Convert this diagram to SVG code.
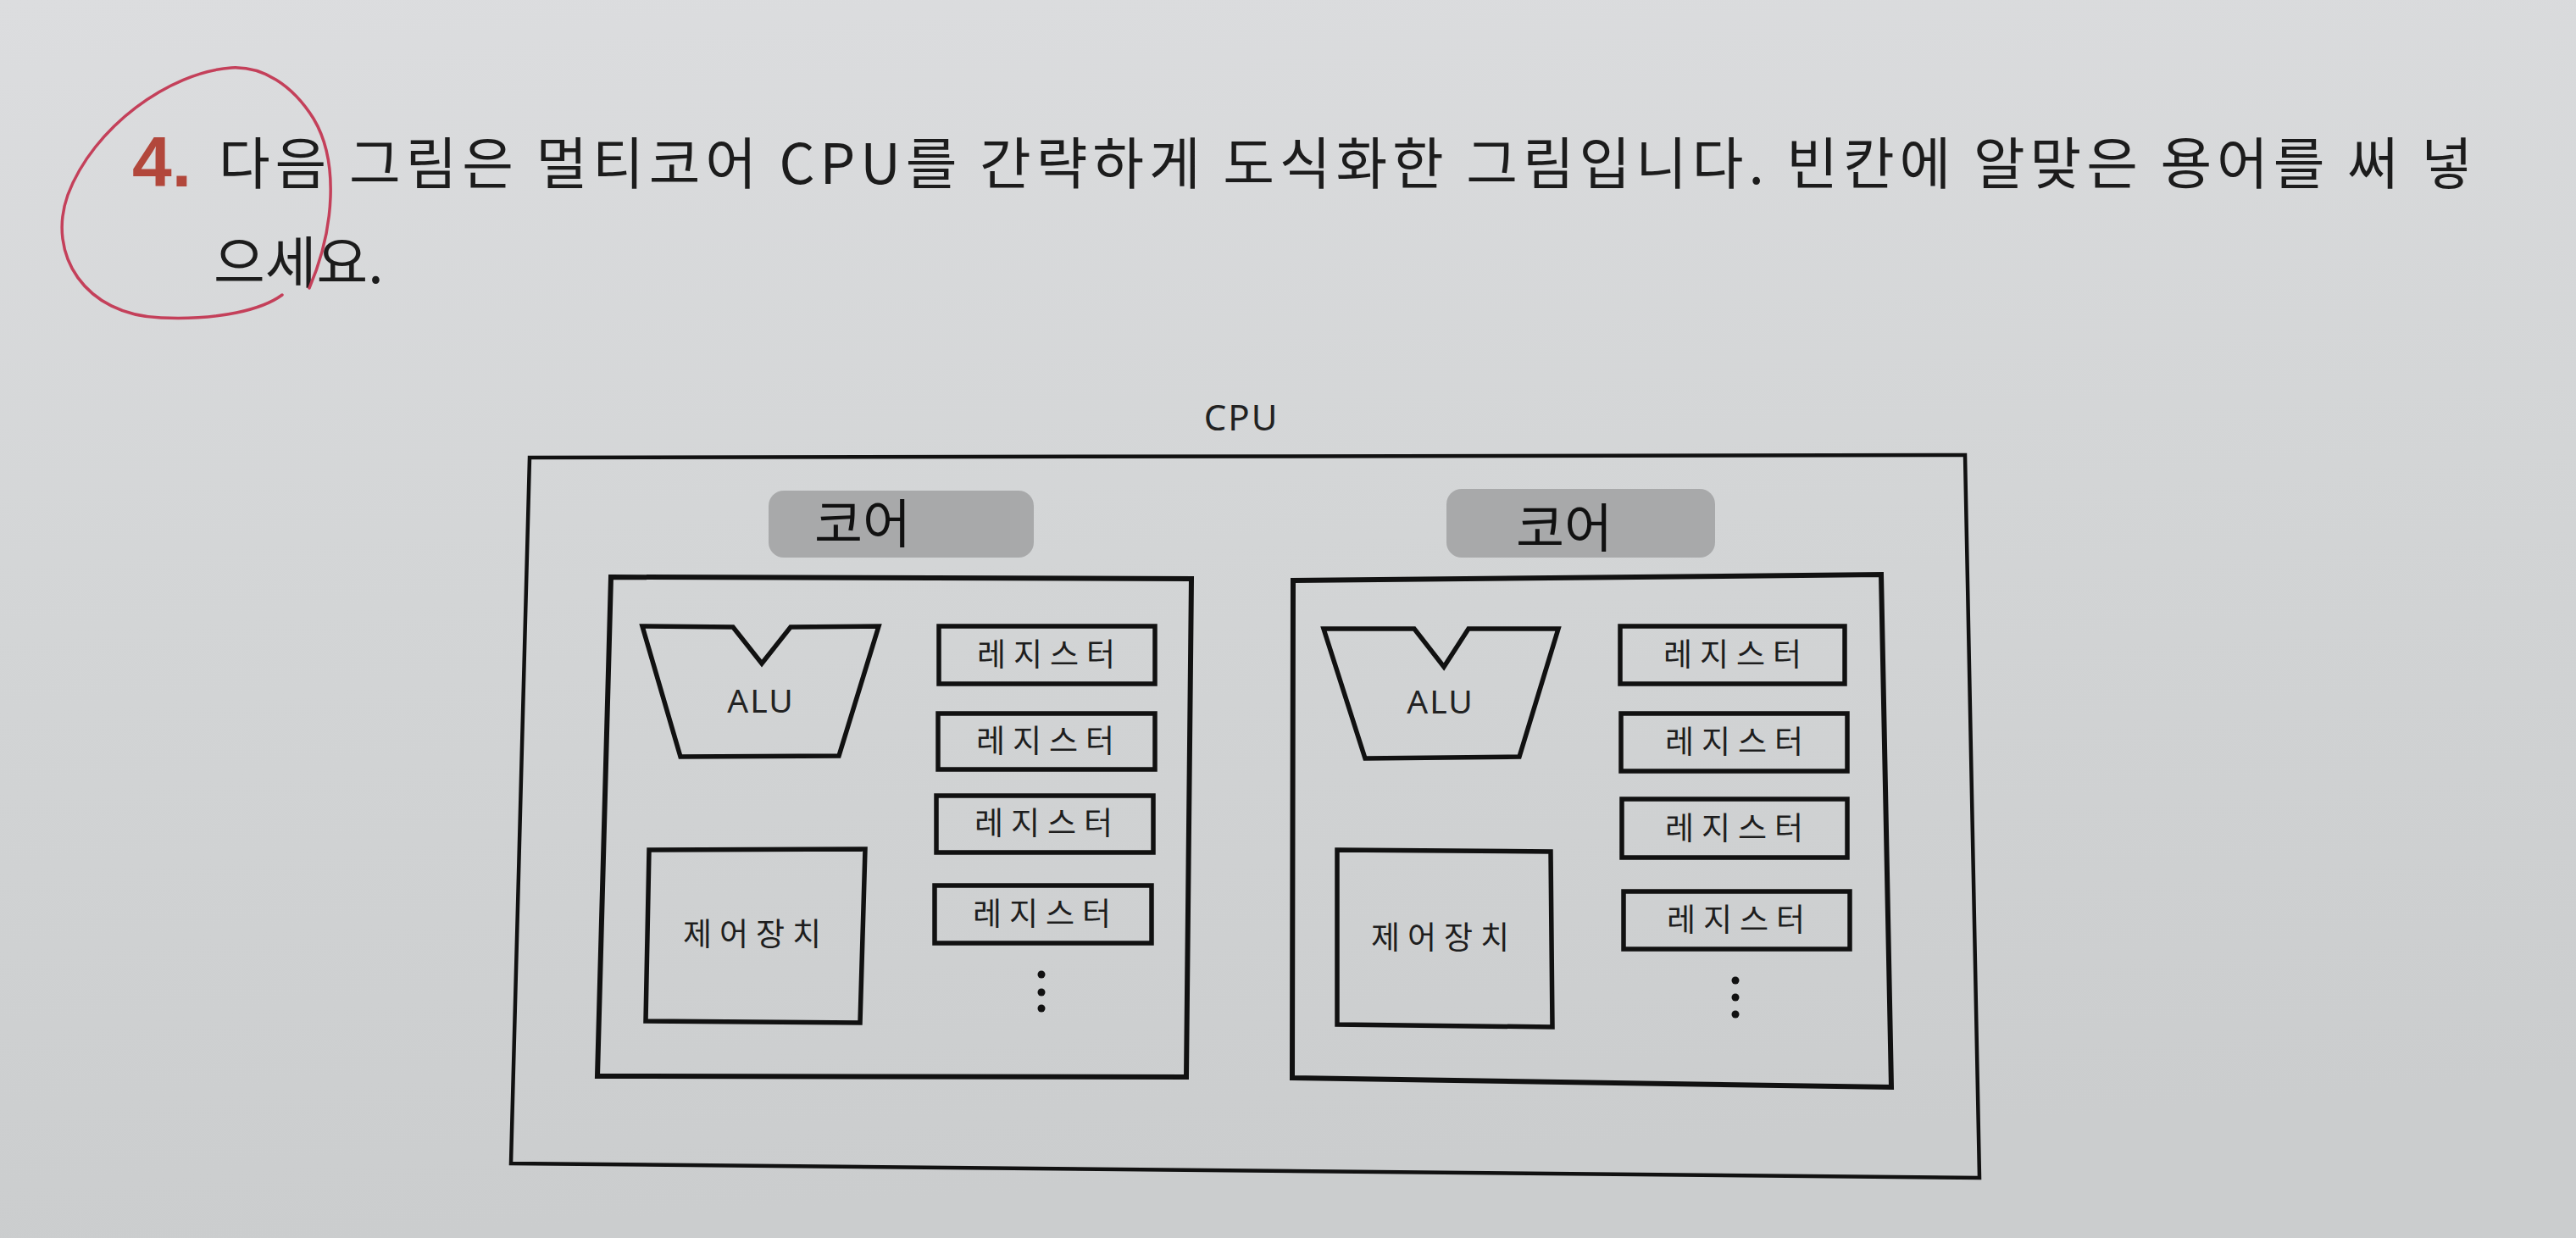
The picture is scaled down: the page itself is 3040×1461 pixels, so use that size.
<svg xmlns="http://www.w3.org/2000/svg" width="3040" height="1461" viewBox="0 0 3040 1461">
<defs>
<linearGradient id="paper" x1="0" y1="0" x2="0.15" y2="1">
<stop offset="0" stop-color="#dcdddf"/>
<stop offset="0.5" stop-color="#d3d5d6"/>
<stop offset="1" stop-color="#cbcdce"/>
</linearGradient>
<style>
.q{font-family:"Noto Sans CJK KR","Noto Sans",sans-serif;fill:#1c1c1c}
.box{fill:none;stroke:#111;stroke-width:5.5;stroke-linejoin:miter}
.corebox{fill:none;stroke:#111;stroke-width:6}
.outer{fill:none;stroke:#111;stroke-width:4.5}
.pill{fill:#a8a9aa}
.lbl{font-family:"Noto Sans CJK KR","Noto Sans",sans-serif;fill:#1e1e1e;text-anchor:middle}
.reg{font-size:37px;letter-spacing:9px}
.core{font-size:62px;fill:#111}
.alu{font-family:"Noto Sans","Liberation Sans",sans-serif;font-size:39px;letter-spacing:2px;fill:#222;text-anchor:middle}
.dot{fill:#111}
</style>
</defs>
<rect x="0" y="0" width="3040" height="1461" fill="url(#paper)"/>

<g id="question">
<text x="156" y="220" font-family="Liberation Sans,Arial,sans-serif" font-weight="bold" font-size="84" fill="#b2473b">4.</text>
<text class="q" x="258" y="217" font-size="66" textLength="2660" lengthAdjust="spacing">다음 그림은 멀티코어 CPU를 간략하게 도식화한 그림입니다. 빈칸에 알맞은 용어를 써 넣</text>
<text class="q" x="252" y="334" font-size="66">으세요.</text>
<path d="M365 340 C395 270 400 190 370 140 C345 100 310 78 273 80 C200 85 110 150 80 230 C55 300 100 372 190 375 C260 378 310 365 333 348" fill="none" stroke="#c4405a" stroke-width="3.5" stroke-linecap="round"/>
</g>

<g id="cpu">
<text x="1465" y="508" font-family="Noto Sans,Liberation Sans,sans-serif" font-size="42" letter-spacing="2" fill="#222" text-anchor="middle">CPU</text>
<polygon class="outer" points="625,540 2319,537 2336,1390 603,1373"/>
</g>

<g id="core-left">
<rect class="pill" x="907" y="579" width="313" height="79" rx="18"/>
<text class="lbl core" x="1018" y="641">코어</text>
<polygon class="corebox" points="721,681 1406,683 1400,1271 705,1270"/>
</g>

<g id="alu-left">
<path class="box" d="M758,739 L865,740 L899,783 L933,740 L1037,739 L990,892 L803,893 Z"/>
<text class="alu" x="898" y="841">ALU</text>
</g>

<g id="regs-left">
<rect class="box" x="1108" y="739" width="255" height="68"/>
<text class="lbl reg" x="1239" y="786">레지스터</text>
<rect class="box" x="1107" y="842" width="256" height="66"/>
<text class="lbl reg" x="1238" y="888">레지스터</text>
<rect class="box" x="1105" y="939" width="256" height="67"/>
<text class="lbl reg" x="1236" y="985">레지스터</text>
<rect class="box" x="1103" y="1045" width="256" height="68"/>
<text class="lbl reg" x="1234" y="1092">레지스터</text>
<circle class="dot" cx="1229" cy="1150" r="4.5"/>
<circle class="dot" cx="1229" cy="1171" r="4.5"/>
<circle class="dot" cx="1229" cy="1190" r="4.5"/>
</g>

<g id="control-left">
<polygon class="box" points="766,1003 1021,1002 1015,1207 762,1205"/>
<text class="lbl reg" x="892" y="1116">제어장치</text>
</g>

<g id="core-right">
<rect class="pill" x="1707" y="577" width="317" height="81" rx="18"/>
<text class="lbl core" x="1846" y="646">코어</text>
<polygon class="corebox" points="1526,685 2220,678 2232,1283 1525,1272"/>
</g>

<g id="alu-right">
<path class="box" d="M1562,742 L1669,742 L1704,787 L1733,742 L1839,742 L1793,893 L1611,895 Z"/>
<text class="alu" x="1700" y="842">ALU</text>
</g>

<g id="regs-right">
<rect class="box" x="1912" y="739" width="265" height="68"/>
<text class="lbl reg" x="2049" y="786">레지스터</text>
<rect class="box" x="1913" y="842" width="267" height="68"/>
<text class="lbl reg" x="2051" y="889">레지스터</text>
<rect class="box" x="1914" y="943" width="266" height="69"/>
<text class="lbl reg" x="2051" y="991">레지스터</text>
<rect class="box" x="1916" y="1052" width="267" height="68"/>
<text class="lbl reg" x="2053" y="1099">레지스터</text>
<circle class="dot" cx="2048" cy="1157" r="4.5"/>
<circle class="dot" cx="2048" cy="1177" r="4.5"/>
<circle class="dot" cx="2048" cy="1197" r="4.5"/>
</g>

<g id="control-right">
<polygon class="box" points="1578,1003 1830,1005 1832,1212 1578,1209"/>
<text class="lbl reg" x="1704" y="1120">제어장치</text>
</g>

<g id="connectors"></g>
</svg>
